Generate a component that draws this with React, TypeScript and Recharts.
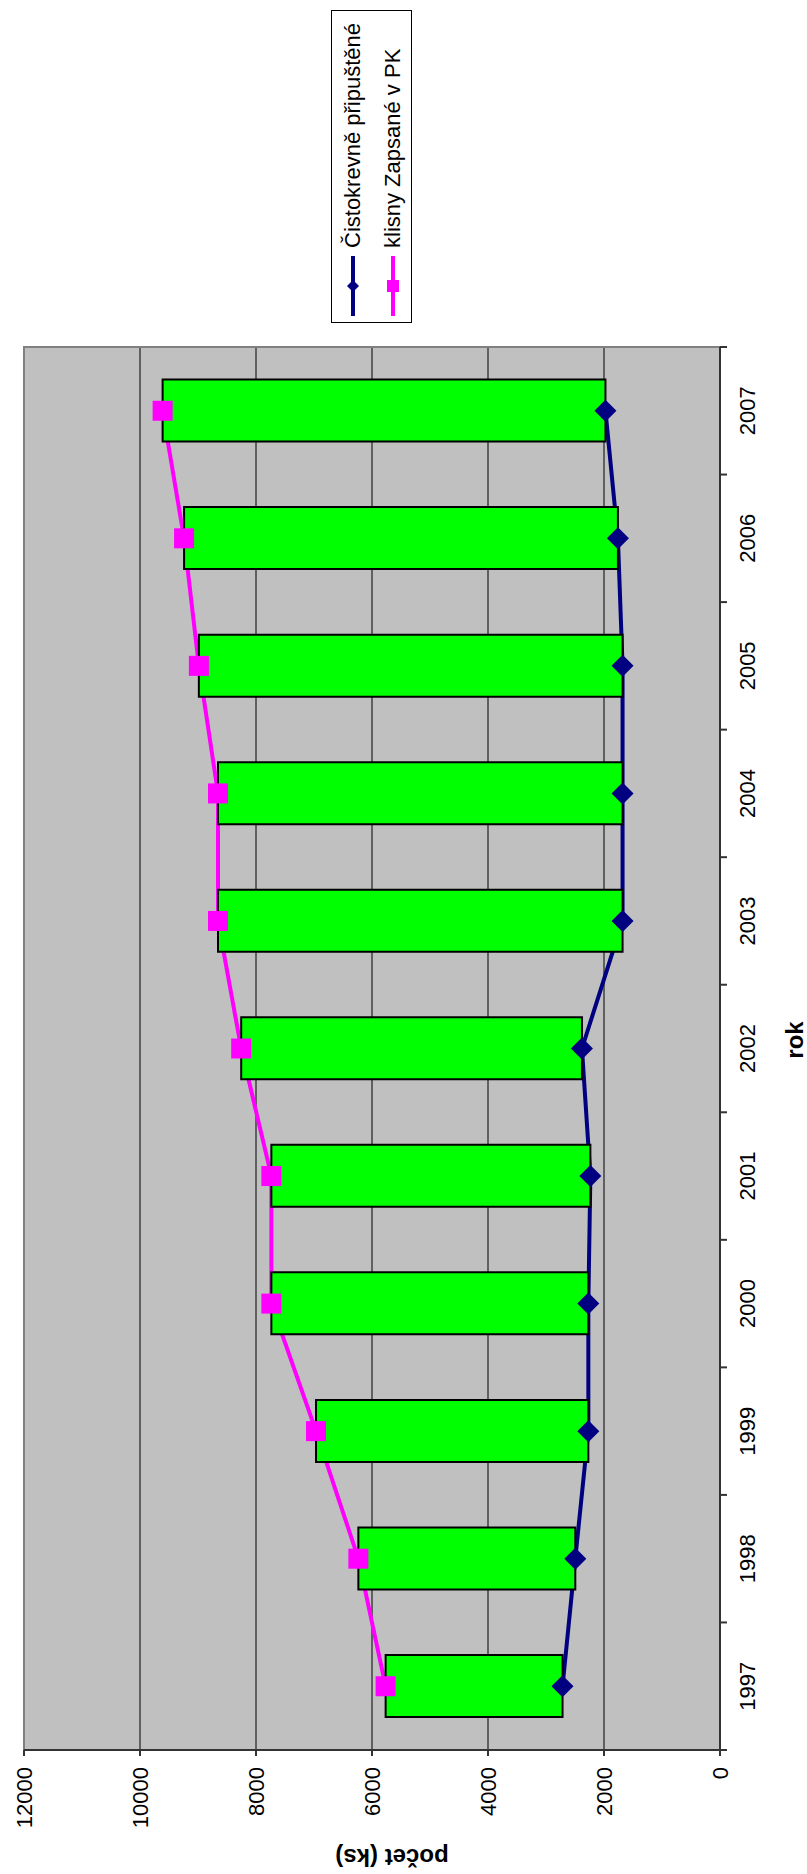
import React from 'react'
import { ComposedChart, Bar, Line, XAxis, YAxis, CartesianGrid, ReferenceArea } from 'recharts'

const years = ['1997', '1998', '1999', '2000', '2001', '2002', '2003', '2004', '2005', '2006', '2007']
const cistokrevne = [2715, 2495, 2270, 2270, 2235, 2380, 1680, 1680, 1680, 1760, 1975]
const klisny = [5765, 6235, 6965, 7735, 7735, 8255, 8655, 8655, 8985, 9240, 9610]
const valueTicks = [0, 2000, 4000, 6000, 8000, 10000, 12000]

const seriesNames = ['Čistokrevně připuštěné', 'klisny Zapsané v PK']

// the chart is drawn landscape and then turned a quarter turn to the left
const CHART_W = 1874
const CHART_H = 807
const MARGIN = { top: 24, right: 347, bottom: 0, left: 24 }
const YAXIS_W = 100
const XAXIS_H = 87
const BAND = (CHART_W - MARGIN.left - MARGIN.right - YAXIS_W) / years.length

const FONT = '"Liberation Sans", Arial, sans-serif'
const NAVY = '#000080'
const PINK = '#FF00FF'

const data = years.map((year, i) => ({
  year,
  cisto: cistokrevne[i],
  klisny: klisny[i],
  range: [cistokrevne[i], klisny[i]],
}))

const YearTick = ({ x, y, payload, index }: any) => (
  <g>
    {index === 0 && (
      <line x1={x - BAND / 2} x2={x - BAND / 2} y1={y} y2={y + 7} stroke="#333" strokeWidth={2} />
    )}
    <line x1={x + BAND / 2} x2={x + BAND / 2} y1={y} y2={y + 7} stroke="#333" strokeWidth={2} />
    <text x={x} y={y + 19} dy="0.71em" textAnchor="middle" fill="#000" fontSize={22} fontFamily={FONT}>
      {payload.value}
    </text>
  </g>
)

const Diamond = ({ cx, cy, index }: any) => (
  <polygon
    key={`d-${index}`}
    points={`${cx},${cy - 11} ${cx + 11},${cy} ${cx},${cy + 11} ${cx - 11},${cy}`}
    fill={NAVY}
  />
)

const Square = ({ cx, cy, index }: any) => (
  <rect key={`s-${index}`} x={cx - 10} y={cy - 10} width={20} height={20} fill={PINK} />
)

const LegendBox = () => (
  <div
    style={{
      position: 'absolute',
      left: 1551,
      top: 331,
      width: 313,
      height: 81,
      boxSizing: 'border-box',
      border: '1px solid #000',
      background: '#fff',
      fontFamily: FONT,
      fontSize: 22,
    }}
  >
    {seriesNames.map((name, i) => (
      <div key={name} style={{ position: 'absolute', left: 0, top: i === 0 ? 21 : 61, height: 0 }}>
        <svg width={66} height={24} style={{ position: 'absolute', left: 0, top: -12 }}>
          <line x1={6} x2={66} y1={12} y2={12} stroke={i === 0 ? NAVY : PINK} strokeWidth={4} />
          {i === 0 ? (
            <polygon points="36,6 42,12 36,18 30,12" fill={NAVY} />
          ) : (
            <rect x={30} y={6} width={12} height={12} fill={PINK} />
          )}
        </svg>
        <span style={{ position: 'absolute', left: 74, top: -13, whiteSpace: 'nowrap', lineHeight: '26px' }}>
          {name}
        </span>
      </div>
    ))}
  </div>
)

export default function App() {
  return (
    <div style={{ position: 'absolute', left: 0, top: 0, width: 807, height: 1874, background: '#fff', overflow: 'hidden' }}>
      <div
        style={{
          position: 'absolute',
          left: 0,
          top: 0,
          width: CHART_W,
          height: CHART_H,
          transformOrigin: '0 0',
          transform: `translate(0px, ${CHART_W}px) rotate(-90deg)`,
        }}
      >
        <ComposedChart width={CHART_W} height={CHART_H} data={data} margin={MARGIN}>
          <CartesianGrid vertical={false} stroke="#000" fill="#C0C0C0" fillOpacity={1} />
          <ReferenceArea y1={0} y2={12000} fill="none" stroke="#808080" strokeWidth={2} ifOverflow="visible" />
          <XAxis
            dataKey="year"
            type="category"
            height={XAXIS_H}
            interval={0}
            tickLine={false}
            tickSize={0}
            tickMargin={0}
            tick={<YearTick />}
            axisLine={{ stroke: '#333', strokeWidth: 2 }}
          />
          <YAxis
            type="number"
            domain={[0, 12000]}
            ticks={valueTicks}
            width={YAXIS_W}
            tickSize={6}
            tickMargin={11}
            tick={{ fill: '#000', fontSize: 22, fontFamily: FONT }}
            tickLine={{ stroke: '#333', strokeWidth: 2 }}
            axisLine={{ stroke: '#333', strokeWidth: 2 }}
          />
          <Line
            dataKey="cisto"
            type="linear"
            stroke={NAVY}
            strokeWidth={4}
            dot={false}
            activeDot={false}
            isAnimationActive={false}
            zIndex={250}
          />
          <Line
            dataKey="klisny"
            type="linear"
            stroke={PINK}
            strokeWidth={4}
            dot={false}
            activeDot={false}
            isAnimationActive={false}
            zIndex={250}
          />
          <Bar dataKey="range" barSize={62} fill="#00FF00" stroke="#000" strokeWidth={2} isAnimationActive={false} zIndex={300} />
          <Line
            dataKey="cisto"
            stroke="none"
            strokeWidth={0}
            dot={Diamond}
            activeDot={false}
            isAnimationActive={false}
            zIndex={450}
          />
          <Line
            dataKey="klisny"
            stroke="none"
            strokeWidth={0}
            dot={Square}
            activeDot={false}
            isAnimationActive={false}
            zIndex={450}
          />
        </ComposedChart>
        <div
          style={{
            position: 'absolute',
            left: 17,
            top: 392,
            transform: 'translate(-50%, -50%) rotate(-90deg)',
            fontFamily: FONT,
            fontSize: 24,
            fontWeight: 'bold',
            whiteSpace: 'nowrap',
          }}
        >
          počet (ks)
        </div>
        <div
          style={{
            position: 'absolute',
            left: 834,
            top: 795,
            transform: 'translate(-50%, -50%)',
            fontFamily: FONT,
            fontSize: 24,
            fontWeight: 'bold',
          }}
        >
          rok
        </div>
        <LegendBox />
      </div>
    </div>
  )
}
